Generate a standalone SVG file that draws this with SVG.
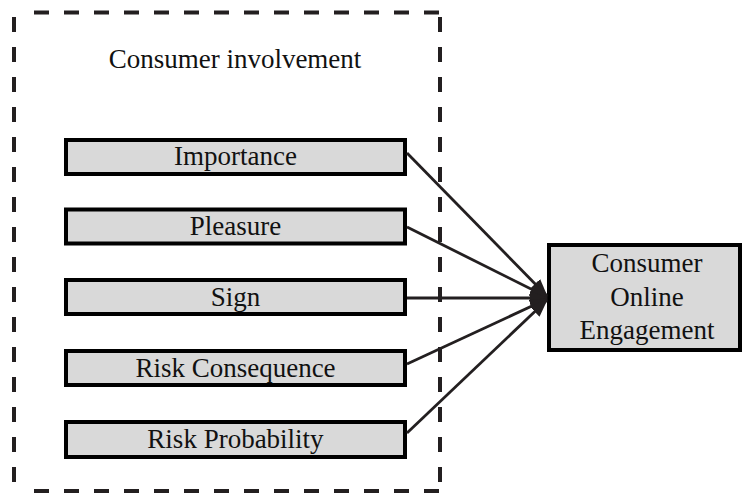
<svg xmlns="http://www.w3.org/2000/svg" width="742" height="493" viewBox="0 0 742 493">
<style>
  .box { fill: #d9d9d9; stroke: #000; stroke-width: 4; }
  .lbl { font-family: "Liberation Serif", "Times New Roman", serif; font-size: 27px; fill: #111; text-anchor: middle; }
  .dash { stroke: #231f20; stroke-width: 4; stroke-dasharray: 15 15; fill: none; }
  .conn { stroke: #231f20; stroke-width: 2.8; fill: none; marker-end: url(#arrow); }
</style>
<defs>
  <marker id="arrow" markerUnits="userSpaceOnUse" markerWidth="18" markerHeight="14" refX="17" refY="7" orient="auto">
    <path d="M0,0 L18,7 L0,14 z" fill="#231f20"/>
  </marker>
</defs>
<rect width="742" height="493" fill="#fff"/>
<g id="group-consumer-involvement">
  <line class="dash" x1="34" y1="12.5" x2="440" y2="12.5"/>
  <line class="dash" x1="14" y1="17" x2="14" y2="493"/>
  <line class="dash" x1="440" y1="17" x2="440" y2="493"/>
  <line class="dash" x1="34" y1="491" x2="440" y2="491"/>
  <text class="lbl" x="235" y="68">Consumer involvement</text>
</g>
<g id="node-importance">
  <rect class="box" x="66" y="140" width="339" height="34"/>
  <text class="lbl" x="235.5" y="165">Importance</text>
</g>
<g id="node-pleasure">
  <rect class="box" x="66" y="209.5" width="339" height="34"/>
  <text class="lbl" x="235.5" y="235">Pleasure</text>
</g>
<g id="node-sign">
  <rect class="box" x="66" y="280" width="339" height="34"/>
  <text class="lbl" x="235.5" y="306">Sign</text>
</g>
<g id="node-risk-consequence">
  <rect class="box" x="66" y="351" width="339" height="34"/>
  <text class="lbl" x="235.5" y="377">Risk Consequence</text>
</g>
<g id="node-risk-probability">
  <rect class="box" x="66" y="422" width="339" height="35"/>
  <text class="lbl" x="235.5" y="448">Risk Probability</text>
</g>
<g id="node-engagement">
  <rect class="box" x="549" y="245" width="191" height="105"/>
  <text class="lbl" x="647" y="272">Consumer</text>
  <text class="lbl" x="647" y="306">Online</text>
  <text class="lbl" x="647" y="339">Engagement</text>
</g>
<g id="connectors">
  <line class="conn" x1="407" y1="153" x2="547" y2="296"/>
  <line class="conn" x1="407" y1="227" x2="547" y2="297"/>
  <line class="conn" x1="407" y1="298" x2="547" y2="298"/>
  <line class="conn" x1="407" y1="364" x2="547" y2="299"/>
  <line class="conn" x1="407" y1="433" x2="547" y2="300"/>
</g>
</svg>
